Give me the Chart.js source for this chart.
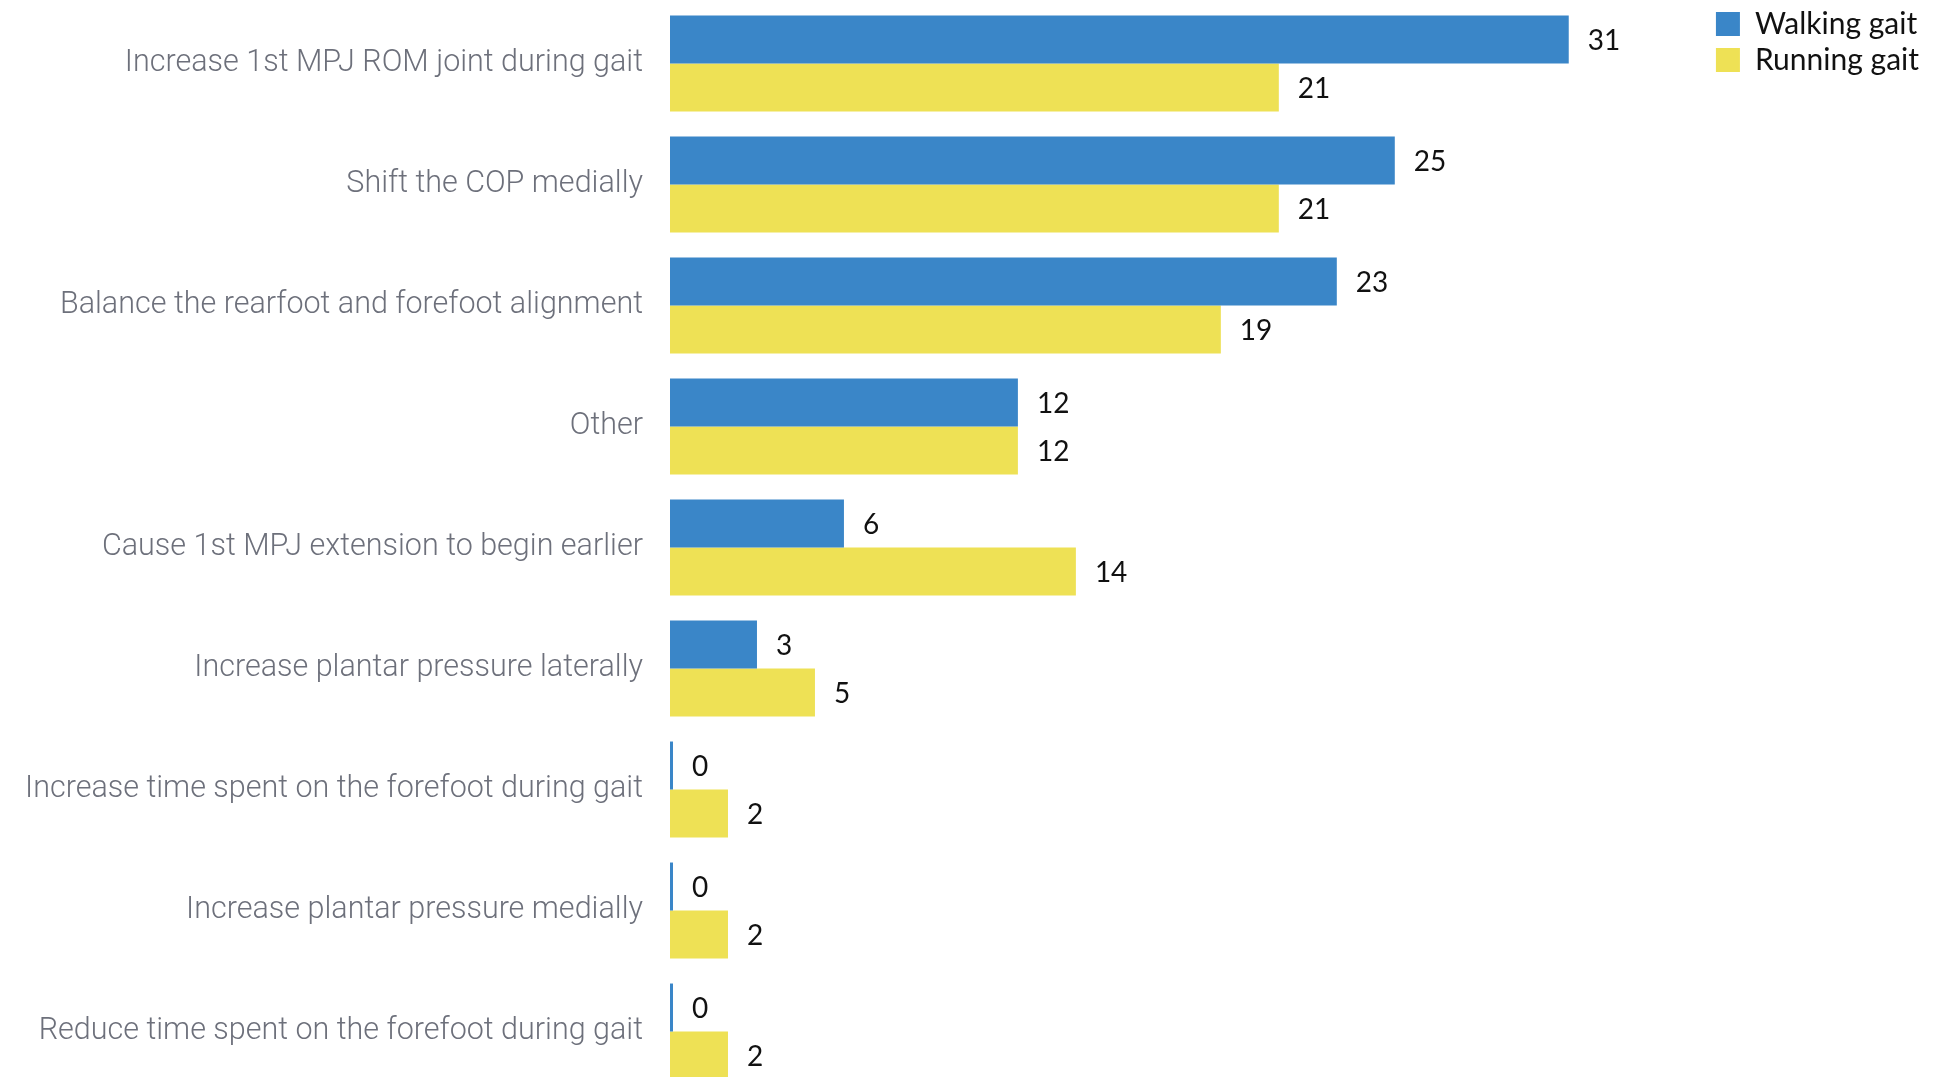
<!DOCTYPE html>
<html>
<head>
<meta charset="utf-8">
<script src="https://cdn.jsdelivr.net/npm/chart.js@4.4.1/dist/chart.umd.min.js"></script>
<style>
  html, body { margin: 0; padding: 0; background: #fff; overflow: hidden; }
  #wrap { width: 1943px; height: 1094px; position: relative; }
</style>
</head>
<body>
<div id="wrap"><canvas id="graph"></canvas></div>
<script>
const categories = [
  "Increase 1st MPJ ROM joint during gait",
  "Shift the COP medially",
  "Balance the rearfoot and forefoot alignment",
  "Other",
  "Cause 1st MPJ extension to begin earlier",
  "Increase plantar pressure laterally",
  "Increase time spent on the forefoot during gait",
  "Increase plantar pressure medially",
  "Reduce time spent on the forefoot during gait"
];
const walking = [31, 25, 23, 12, 6, 3, 0, 0, 0];
const running = [21, 21, 19, 12, 14, 5, 2, 2, 2];

// value next to the end of each bar
const valueLabels = {
  id: "valueLabels",
  afterDatasetsDraw(chart) {
    const ctx = chart.ctx;
    ctx.save();
    ctx.font = "28px Lato";
    ctx.fillStyle = "#111";
    ctx.textBaseline = "middle";
    ctx.textAlign = "left";
    chart.data.datasets.forEach((ds, i) => {
      chart.getDatasetMeta(i).data.forEach((bar, j) => {
        ctx.fillText(ds.data[j], bar.x + 19, bar.y + 1);
      });
    });
    ctx.restore();
  }
};

let graph = document.getElementById("graph").getContext("2d");
let gaitChart = new Chart(graph, {
  type: "bar",
  data: {
    labels: categories,
    datasets: [
      {
        label: "Walking gait",
        data: walking,
        backgroundColor: "#3a86c8",
        minBarLength: 3,
      },
      {
        label: "Running gait",
        data: running,
        backgroundColor: "#eee155",
      },
    ],
  },
  options: {
    indexAxis: "y",
    responsive: true,
    maintainAspectRatio: false,
    animation: false,
    layout: { padding: { top: 3, bottom: 2, left: 0, right: 14 } },
    datasets: {
      bar: { categoryPercentage: 0.793, barPercentage: 1.0 },
    },
    scales: {
      x: {
        display: false,
        min: 0,
        max: 35.87,
      },
      y: {
        grid: { display: false, drawTicks: false },
        border: { display: false },
        ticks: {
          padding: 27,
          color: "#6d707b",
          font: { family: "Roboto", size: 30.5, weight: 300 },
        },
        afterFit(scale) {
          // fixed label column, no extra room above/below the bars
          scale.width = 670;
          scale.paddingTop = 0;
          scale.paddingBottom = 0;
        },
      },
    },
    plugins: {
      tooltip: { enabled: false },
      legend: {
        position: "right",
        align: "start",
        labels: {
          boxWidth: 24,
          boxHeight: 24,
          padding: 6,
          color: "#111",
          font: { family: "Lato", size: 30 },
        },
      },
    },
  },
  plugins: [valueLabels],
});
</script>
</body>
</html>
